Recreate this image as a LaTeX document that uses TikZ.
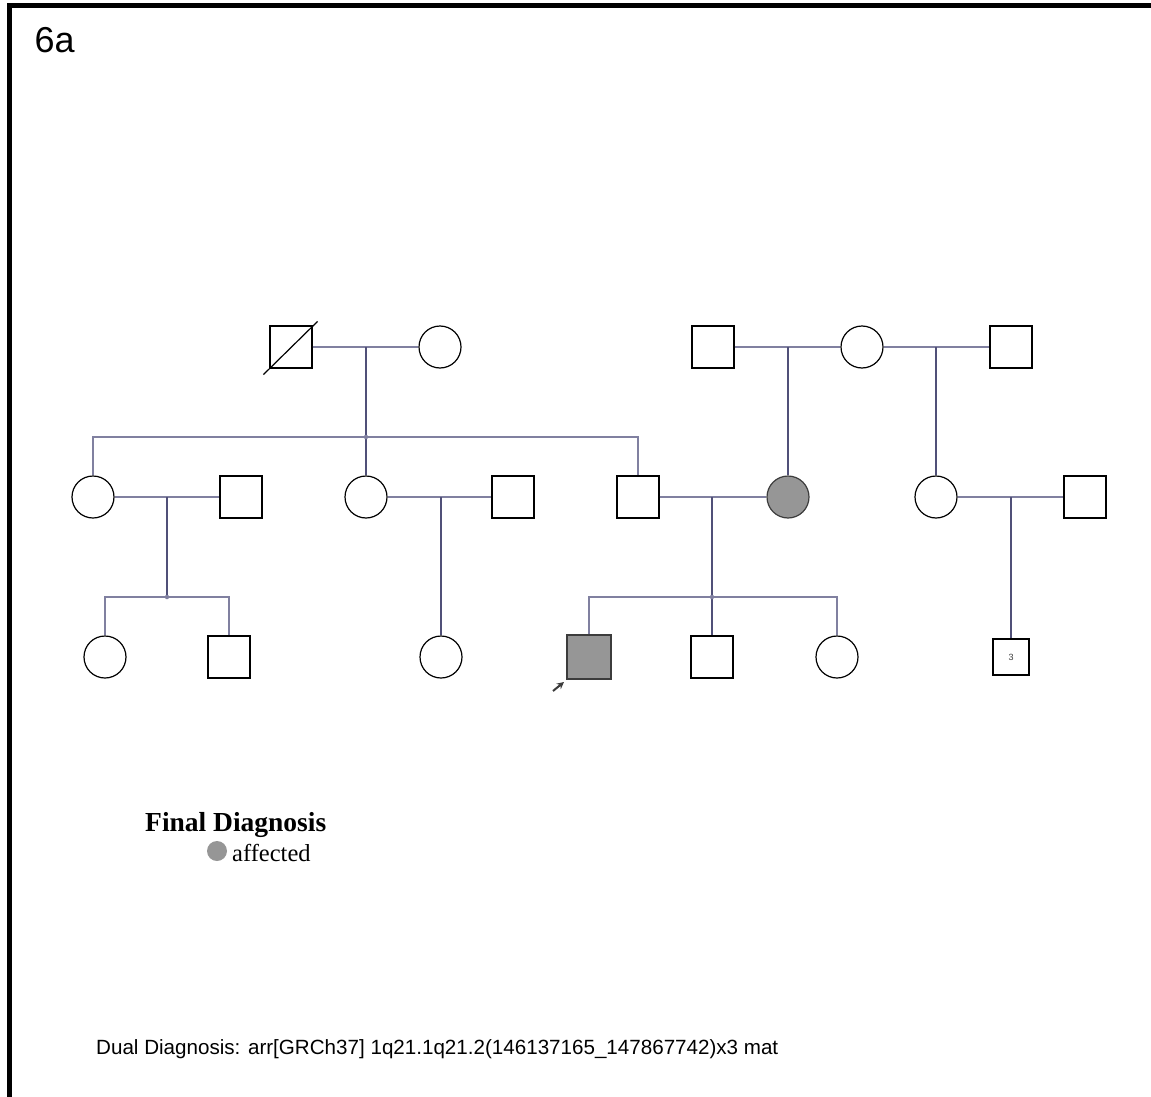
\documentclass[tikz,border=0pt]{standalone}
\usepackage{fontspec}
\usetikzlibrary{arrows.meta}
\newfontfamily\arialfont{Liberation Sans}
\newfontfamily\timesfont{Liberation Serif}
\definecolor{pedGray}{RGB}{150,150,150}
\definecolor{pedLineH}{RGB}{128,128,160}
\definecolor{pedLineV}{RGB}{80,80,120}
\definecolor{pedDark}{RGB}{60,60,60}
\begin{document}
\begin{tikzpicture}[x=1pt,y=-1pt,
    pedMaleS/.style={rectangle,draw=black,line width=1.2pt,minimum size=42pt,inner sep=0pt},
    pedFemS/.style={circle,draw=black,line width=1.2pt,minimum size=42pt,inner sep=0pt},
    pedAffS/.style={fill=pedGray,draw=pedDark},
    pedLineS/.style={draw=pedLineH,line width=1.3pt},
    pedDescS/.style={draw=pedLineV,line width=1.3pt},
    pedDotS/.style={circle,fill=pedLineH,inner sep=0pt,minimum size=4.5pt},
]
\useasboundingbox (0,0) rectangle (1151,1097);
% frame
\draw[line width=5.5pt] (9.5,1097) -- (9.5,5.5) -- (1151,5.5);
\node[font=\arialfont\fontsize{36}{40}\selectfont,anchor=base west] (figTag) at (31,53) {6a};

% generation I
\node[pedMaleS] (pedGF) at (291,347) {};
\node[pedFemS] (pedGM) at (440,347) {};
\draw[line width=1.2pt] ([shift={(-6,6)}]pedGF.south west) -- ([shift={(5,-4)}]pedGF.north east);
\node[pedMaleS] (pedRA) at (713,347) {};
\node[pedFemS] (pedRB) at (862,347) {};
\node[pedMaleS] (pedRC) at (1011,347) {};

% generation II
\node[pedFemS] (pedA1) at (93,497) {};
\node[pedMaleS] (pedA2) at (241,497) {};
\node[pedFemS] (pedB1) at (366,497) {};
\node[pedMaleS] (pedB2) at (513,497) {};
\node[pedMaleS] (pedF) at (638,497) {};
\node[pedFemS,pedAffS] (pedM) at (788,497) {};
\node[pedFemS] (pedC1) at (936,497) {};
\node[pedMaleS] (pedC2) at (1085,497) {};

% generation III
\node[pedFemS] (pedK1) at (105,657) {};
\node[pedMaleS] (pedK2) at (229,657) {};
\node[pedFemS] (pedK3) at (441,657) {};
\node[pedMaleS,pedAffS,minimum size=44pt,line width=2pt] (pedP) at (589,657) {};
\node[pedMaleS] (pedS1) at (712,657) {};
\node[pedFemS] (pedS2) at (837,657) {};
\node[pedMaleS,minimum size=36pt,font=\arialfont\fontsize{9}{10}\selectfont,text=pedDark] (pedN) at (1011,657) {3};

% couples and descent
\coordinate (mGI) at (366,347);
\coordinate (sGI) at (366,437);
\draw[pedLineS] (pedGF.east) -- (pedGM.west);
\draw[pedDescS] (mGI) -- (sGI);
\draw[pedLineS] (pedA1.north) |- (sGI) -| (pedF.north);
\draw[pedDescS] (sGI) -- (pedB1.north);
\node[pedDotS] (dGI) at (sGI) {};

\coordinate (mRA) at (788,347);
\coordinate (mRB) at (936,347);
\draw[pedLineS] (pedRA.east) -- (pedRB.west);
\draw[pedLineS] (pedRB.east) -- (pedRC.west);
\draw[pedDescS] (mRA) -- (pedM.north);
\draw[pedDescS] (mRB) -- (pedC1.north);

\coordinate (mA) at (167,497);
\coordinate (sA) at (167,597);
\draw[pedLineS] (pedA1.east) -- (pedA2.west);
\draw[pedDescS] (mA) -- (sA);
\draw[pedLineS] (pedK1.north) |- (sA) -| (pedK2.north);
\node[pedDotS] (dA) at (sA) {};

\coordinate (mB) at (441,497);
\draw[pedLineS] (pedB1.east) -- (pedB2.west);
\draw[pedDescS] (mB) -- (pedK3.north);

\coordinate (mF) at (712,497);
\coordinate (sF) at (712,597);
\draw[pedLineS] (pedF.east) -- (pedM.west);
\draw[pedDescS] (mF) -- (sF);
\draw[pedLineS] (pedP.north) |- (sF) -| (pedS2.north);
\draw[pedDescS] (sF) -- (pedS1.north);
\node[pedDotS] (dF) at (sF) {};

\coordinate (mC) at (1011,497);
\draw[pedLineS] (pedC1.east) -- (pedC2.west);
\draw[pedDescS] (mC) -- (pedN.north);

% proband arrow
\coordinate (pArrow) at (553,691);
\draw[draw=pedDark,line width=2pt,-{Stealth[length=7pt,width=7pt]}] (pArrow) -- ([shift={(-2,2)}]pedP.south west);

% legend
\node[font=\timesfont\bfseries\fontsize{27.5}{31}\selectfont,anchor=base west,inner sep=0pt] (legTitle) at (145,831) {Final Diagnosis};
\node[circle,fill=pedGray,minimum size=20pt,inner sep=0pt] (legDot) at (217,851) {};
\node[font=\timesfont\fontsize{24.5}{28}\selectfont,anchor=base west,inner sep=0pt] (legText) at (232,861) {affected};

% dual diagnosis
\node[font=\arialfont\fontsize{20.6}{24}\selectfont,anchor=base west,inner sep=0pt] (dualDx) at (96,1054) {Dual Diagnosis: arr[GRCh37] 1q21.1q21.2(146137165\_147867742)x3 mat};
\end{tikzpicture}
\end{document}
